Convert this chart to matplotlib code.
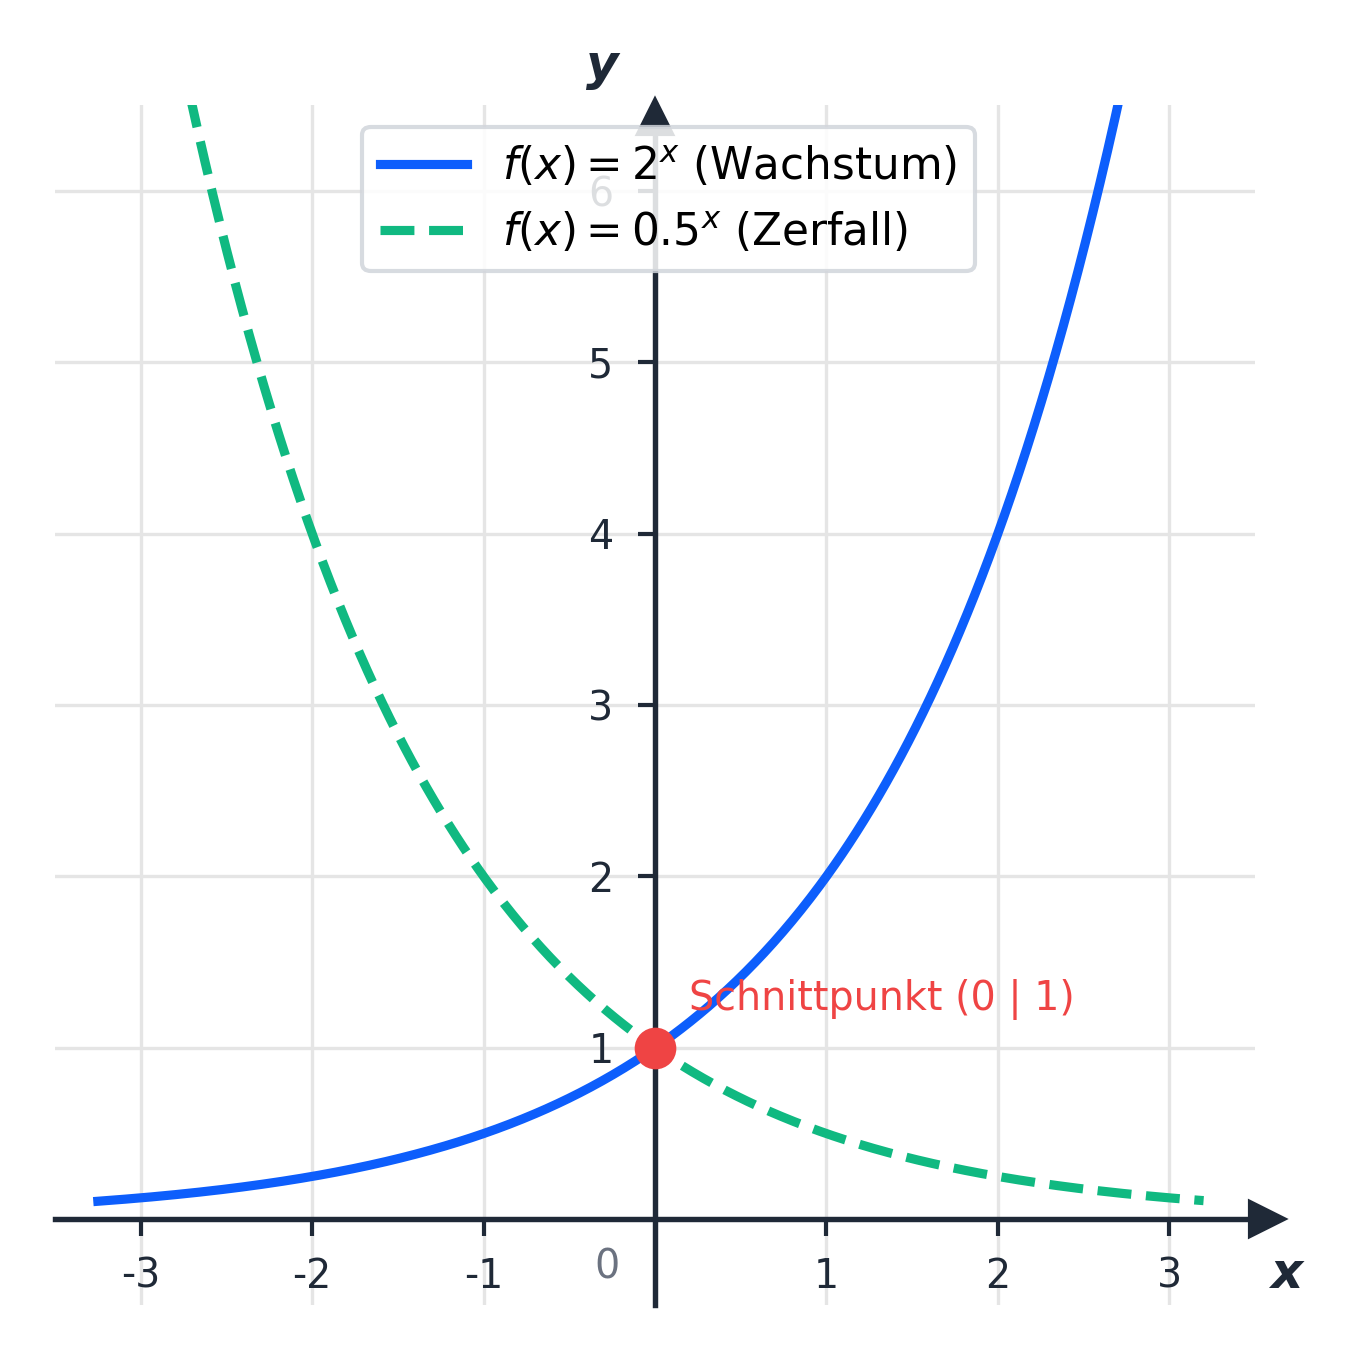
import numpy as np
import matplotlib
matplotlib.use("Agg")
import matplotlib.pyplot as plt

bases = [2.0, 0.5]
labels = [r"$f(x) = 2^x$ (Wachstum)", r"$f(x) = 0.5^x$ (Zerfall)"]
colors = ["#0d5efc", "#10b981"]
styles = ["-", "--"]
xticks = [-3, -2, -1, 1, 2, 3]
yticks = [1, 2, 3, 4, 5, 6]
point = (0, 1)
dark = "#1f2937"

fig = plt.figure(figsize=(4.5, 4.5), dpi=300)
ax = fig.add_axes([55/1350, 45/1350, 1200/1350, 1200/1350])
ax.set_xlim(-3.5, 3.5)
ax.set_ylim(-0.5, 6.5)

x = np.linspace(-3.25, 3.2, 600)
for b, lab, c, ls in zip(bases, labels, colors, styles):
    ax.plot(x, b ** x, color=c, ls=ls, lw=2.2, label=lab, zorder=3)

ax.plot(*point, "o", color="#ef4444", ms=9, zorder=5)
ax.text(0.2, 1.28, "Schnittpunkt (0 | 1)", color="#ef4444", fontsize=9.5, va="center")

for s in ["top", "right"]:
    ax.spines[s].set_visible(False)
ax.spines["left"].set_position(("data", 0))
ax.spines["bottom"].set_position(("data", 0))
for s in ["left", "bottom"]:
    ax.spines[s].set_color(dark)
    ax.spines[s].set_linewidth(1.3)
ax.plot(1.01, 0, ">", color=dark, ms=8, transform=ax.get_yaxis_transform(), clip_on=False)
ax.plot(0, 0.99, "^", color=dark, ms=8, transform=ax.get_xaxis_transform(), clip_on=False)

ax.set_xticks(xticks)
ax.set_xticklabels([str(t) for t in xticks])
ax.set_yticks(yticks)
ax.set_yticklabels([str(t) for t in yticks])
ax.tick_params(colors=dark, labelsize=9.5, length=4, width=1, pad=5)
ax.tick_params(axis="y", pad=6)
ax.grid(True, color="#e5e5e5", lw=0.8)
ax.set_axisbelow(True)
ax.text(-0.28, -0.28, "0", color="#6b7280", fontsize=9.5, ha="center", va="center")
ax.text(3.68, -0.32, "x", fontsize=12, fontweight="bold", style="italic", color=dark,
        ha="center", va="center", clip_on=False)
ax.text(-0.31, 6.73, "y", fontsize=12, fontweight="bold", style="italic", color=dark,
        ha="center", va="center", clip_on=False)

leg = ax.legend(loc="upper left", bbox_to_anchor=(0.256, 0.982), fontsize=10.5,
                framealpha=0.85, edgecolor="#d1d5db", handlelength=2.0,
                borderaxespad=0)
fig.savefig("out.png", dpi=300)
